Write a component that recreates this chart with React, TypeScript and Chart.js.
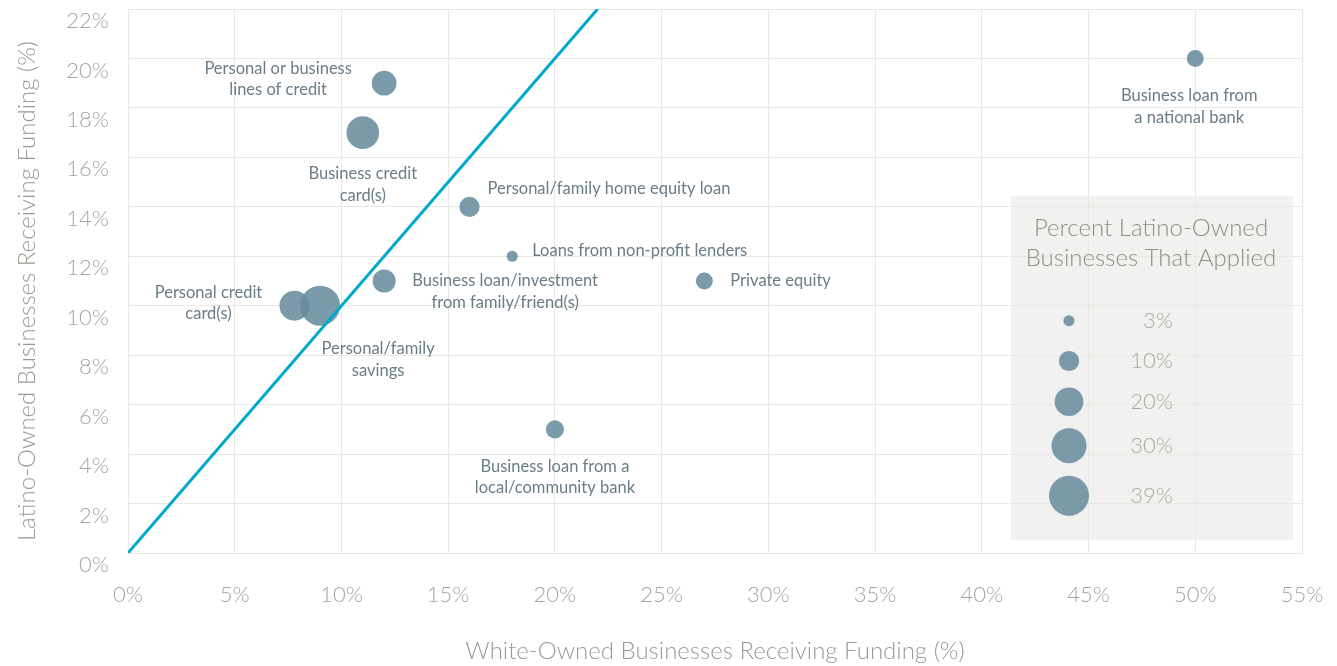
import React, { useEffect, useRef } from "react";
import { Chart, registerables } from "chart.js";

Chart.register(...registerables);

// ---- data ----
const fundingSources = [
  "Personal or business\nlines of credit",
  "Business credit\ncard(s)",
  "Personal/family home equity loan",
  "Loans from non-profit lenders",
  "Business loan/investment\nfrom family/friend(s)",
  "Private equity",
  "Personal credit\ncard(s)",
  "Personal/family\nsavings",
  "Business loan from a\nlocal/community bank",
  "Business loan from\na national bank",
];
const whiteOwnedFunded = [12, 11, 16, 18, 12, 27, 7.8, 9, 20, 50];
const latinoOwnedFunded = [19, 17, 14, 12, 11, 11, 10, 10, 5, 20];
const latinoOwnedApplied = [15, 26, 10, 3, 13, 7, 22, 39, 8, 7];
const legendApplied = [3, 10, 20, 30, 39];
const parityLineX = [0, 22];
const parityLineY = [0, 22];
const yAxisTitle = "Latino-Owned Businesses Receiving Funding (%)";
const xAxisTitle = "White-Owned Businesses Receiving Funding (%)";

// ---- layout / style (not data) ----
const labelPlacement: { dx: number; dy: number; align: CanvasTextAlign }[] = [
  { dx: -106, dy: -4, align: "center" },
  { dx: 0, dy: 52, align: "center" },
  { dx: 18, dy: -18, align: "left" },
  { dx: 20, dy: -6, align: "left" },
  { dx: 121, dy: 10.5, align: "center" },
  { dx: 26, dy: 0, align: "left" },
  { dx: -86, dy: -2.5, align: "center" },
  { dx: 58, dy: 54, align: "center" },
  { dx: 0, dy: 48, align: "center" },
  { dx: -6, dy: 48, align: "center" },
];

const FONT = "Lato, 'Open Sans', sans-serif";
const BUBBLE = "rgba(103,140,159,0.87)";
const GRID = "#e8e8e4";
const radiusOf = (p: number) => 3.2 * Math.sqrt(p);

const overlayPlugin = {
  id: "overlay",
  beforeDraw(chart: any) {
    const ctx = chart.ctx;
    const ca = chart.chartArea;
    ctx.save();
    ctx.fillStyle = "#f1f1ef";
    ctx.fillRect(ca.right - 291, 188, 282, 344);
    ctx.restore();
  },
  afterDatasetsDraw(chart: any) {
    const ctx = chart.ctx;
    const xs = chart.scales.x;
    const ys = chart.scales.y;
    const ca = chart.chartArea;
    ctx.save();
    // y axis title
    ctx.save();
    ctx.translate(19, (ca.top + ca.bottom) / 2 + 10);
    ctx.rotate(-Math.PI / 2);
    ctx.font = `300 24px ${FONT}`;
    ctx.fillStyle = "#9a9a94";
    ctx.textAlign = "center";
    ctx.textBaseline = "middle";
    ctx.fillText(yAxisTitle, 0, 0);
    ctx.restore();
    // annotation labels
    ctx.font = `400 16.5px ${FONT}`;
    ctx.fillStyle = "#6b7c86";
    ctx.textBaseline = "middle";
    fundingSources.forEach((name, i) => {
      const px = xs.getPixelForValue(whiteOwnedFunded[i]);
      const py = ys.getPixelForValue(latinoOwnedFunded[i]);
      const pl = labelPlacement[i];
      const lines = name.split("\n");
      const lh = 21.5;
      ctx.textAlign = pl.align;
      lines.forEach((ln, j) => {
        const y = py + pl.dy + (j - (lines.length - 1) / 2) * lh;
        ctx.fillText(ln, px + pl.dx, y);
      });
    });
    // legend
    const boxL = ca.right - 291;
    ctx.textAlign = "center";
    ctx.fillStyle = "#8f8f88";
    ctx.font = `300 24px ${FONT}`;
    ctx.fillText("Percent Latino-Owned", boxL + 140, 220);
    ctx.fillText("Businesses That Applied", boxL + 140, 250);
    const rowY = [312.7, 353, 393.7, 437.7, 487.7];
    legendApplied.forEach((p, i) => {
      ctx.beginPath();
      ctx.fillStyle = BUBBLE;
      ctx.arc(boxL + 58, rowY[i], radiusOf(p), 0, Math.PI * 2);
      ctx.fill();
      ctx.fillStyle = "#a9a9a4";
      ctx.font = `300 22px ${FONT}`;
      ctx.textAlign = "right";
      ctx.fillText(p + "%", boxL + 162, rowY[i]);
    });
    ctx.restore();
  },
};

export default function App() {
  const ref = useRef<HTMLCanvasElement | null>(null);
  useEffect(() => {
    if (!ref.current) return;
    const chart = new Chart(ref.current, {
      type: "bubble",
      data: {
        datasets: [
          {
            type: "line",
            data: parityLineX.map((x, i) => ({ x, y: parityLineY[i] })),
            borderColor: "#00a9cc",
            borderWidth: 3,
            pointRadius: 0,
            order: 0,
          } as any,
          {
            type: "bubble",
            data: whiteOwnedFunded.map((x, i) => ({
              x,
              y: latinoOwnedFunded[i],
              r: radiusOf(latinoOwnedApplied[i]),
            })),
            backgroundColor: BUBBLE,
            borderWidth: 0,
            order: 1,
          },
        ],
      },
      options: {
        animation: false,
        responsive: true,
        maintainAspectRatio: false,
        layout: { autoPadding: false, padding: { top: 1, right: 27, bottom: 0, left: 0 } },
        plugins: { legend: { display: false }, tooltip: { enabled: false } },
        scales: {
          x: {
            type: "linear",
            min: 0,
            max: 55,
            ticks: {
              stepSize: 5,
              padding: 29,
              color: "#a5a5a0",
              font: { family: FONT, size: 22, weight: "300" as any },
              callback: (v: any) => v + "%",
            },
            grid: { color: GRID, drawTicks: false },
            border: { color: GRID },
            title: {
              display: true,
              text: xAxisTitle,
              color: "#9a9a94",
              font: { family: FONT, size: 24, weight: "300" as any },
              padding: { top: 0, bottom: 0 },
            },
            afterFit: (s: any) => {
              s.height = 113;
              s.paddingLeft = 0;
              s.paddingRight = 0;
            },
          },
          y: {
            type: "linear",
            min: 0,
            max: 22,
            ticks: {
              stepSize: 2,
              padding: 19,
              labelOffset: 12,
              color: "#a5a5a0",
              font: { family: FONT, size: 22, weight: "300" as any },
              callback: (v: any) => v + "%",
            },
            grid: { color: GRID, drawTicks: false },
            border: { color: GRID },
            title: { display: false },
            afterFit: (s: any) => {
              s.width = 120;
              s.paddingTop = 0;
              s.paddingBottom = 0;
            },
          },
        },
      },
      plugins: [overlayPlugin],
    });
    return () => chart.destroy();
  }, []);
  return (
    <div style={{ width: 1321, height: 658, position: "relative" }}>
      <canvas ref={ref} />
    </div>
  );
}
